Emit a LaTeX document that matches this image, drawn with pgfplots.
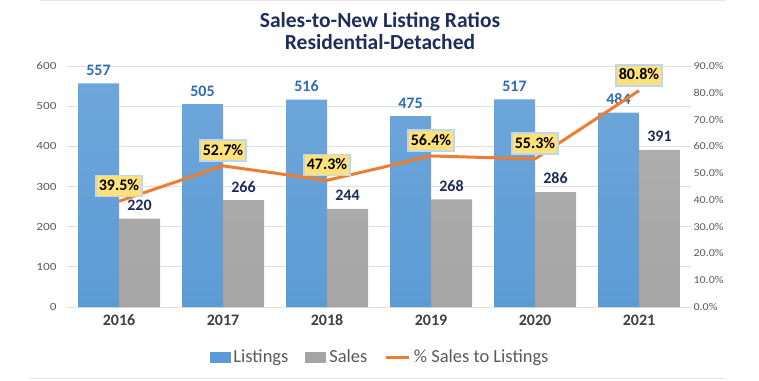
\documentclass[border=0pt]{standalone}
\usepackage{pgfplots}
\pgfplotsset{compat=1.18}
\usepackage{fontspec}
\setmainfont{Carlito}
\newfontfamily\leftticks[FakeStretch=1.2]{Carlito}
\newfontfamily\rightticks[FakeStretch=1.15]{Carlito}
\definecolor{listblue}{HTML}{5B9BD5}
\definecolor{listblueTop}{HTML}{6EA6DA}
\definecolor{salesgray}{HTML}{A5A5A5}
\definecolor{salesgrayTop}{HTML}{ADADAD}
\definecolor{lineorange}{HTML}{ED7D31}
\definecolor{titlenavy}{HTML}{1F2D5C}
\definecolor{lblblue}{HTML}{2E6DB4}
\definecolor{lblnavy}{HTML}{1F2A5C}
\definecolor{boxyellow}{HTML}{FFE17A}
\definecolor{boxedge}{HTML}{BDD7EE}
\definecolor{txtgray}{HTML}{595959}
\definecolor{yeargray}{HTML}{404040}
\begin{document}
\begin{tikzpicture}[x=1pt,y=1pt]
\begin{axis}[
  at={(0,0)}, anchor=south west,
  scale only axis, width=624pt, height=241pt,
  xmin=-0.5, xmax=5.5, ymin=0, ymax=600,
  ybar=0pt, bar width=41pt,
  xtick={0,1,2,3,4,5}, xticklabels={2016,2017,2018,2019,2020,2021},
  ytick={0,100,...,600},
  ymajorgrids, grid style={draw=gray!25, line width=0.8pt},
  axis line style={draw=none}, major tick length=0pt,
  /pgf/number format/assume math mode=true,
  xticklabel style={font=\bfseries\fontsize{16}{16}\selectfont, text=yeargray, yshift=-4pt},
  yticklabel style={font=\leftticks\fontsize{11}{11}\selectfont, text=txtgray, xshift=-7pt},
  nodes near coords,
  nodes near coords style={font=\bfseries\fontsize{16}{16}\selectfont, yshift=4.5pt},
  clip=false,
]
\addplot[draw=none, top color=listblueTop, bottom color=listblue,
  nodes near coords style={text=lblblue}]
  coordinates {(0,557) (1,505) (2,516) (3,475) (4,517) (5,484)};
\addplot[draw=none, top color=salesgrayTop, bottom color=salesgray,
  nodes near coords style={text=lblnavy}]
  coordinates {(0,220) (1,266) (2,244) (3,268) (4,286) (5,391)};
\end{axis}
\begin{axis}[
  at={(0,0)}, anchor=south west,
  scale only axis, width=624pt, height=241pt,
  xmin=-0.5, xmax=5.5, ymin=0, ymax=90,
  axis y line*=right, axis x line=none,
  axis line style={draw=none}, major tick length=0pt,
  ytick={0,10,...,90},
  /pgf/number format/assume math mode=true,
  yticklabel={\pgfmathprintnumber[fixed,fixed zerofill,precision=1]{\tick}\%},
  yticklabel style={font=\rightticks\fontsize{10.5}{10.5}\selectfont, text=txtgray, anchor=west, xshift=-1pt},
  legend columns=-1,
  legend style={draw=none, fill=none, at={(0.5016,-0.2075)}, anchor=center,
    font=\fontsize{18.5}{18.5}\selectfont, text=txtgray,
    cells={inner sep=0pt},
    /tikz/every odd column/.append style={column sep=1.5pt},
    /tikz/every even column/.append style={column sep=15pt}},
  clip=false,
]
\addlegendimage{legend image code/.code={\fill[listblue] (0pt,-5pt) rectangle (20pt,5pt);}}
\addlegendentry{Listings}
\addlegendimage{legend image code/.code={\fill[salesgray] (0pt,-5pt) rectangle (20pt,5pt);}}
\addlegendentry{Sales}
\addlegendimage{legend image code/.code={\draw[lineorange, line width=3pt] (0pt,0pt) -- (23pt,0pt);}}
\addlegendentry{\% Sales to Listings}
\addplot[forget plot, lineorange, line width=3pt, mark=none,
  nodes near coords={\pgfmathprintnumber[fixed,fixed zerofill,precision=1]{\pgfplotspointmeta}\%},
  nodes near coords style={font=\bfseries\fontsize{16}{16}\selectfont, text=black,
    fill=boxyellow, draw=boxedge, line width=1.5pt, inner xsep=3pt, inner ysep=4pt,
    text height=11pt, text depth=2pt, anchor=south, yshift=4pt}]
  coordinates {(0,39.5) (1,52.7) (2,47.3) (3,56.4) (4,55.3) (5,80.8)};
\end{axis}
\node[font=\bfseries\fontsize{21.5}{22}\selectfont, text=titlenavy, align=center] at (313pt,276pt) {Sales-to-New Listing Ratios\\Residential-Detached};
\draw[gray!20, line width=1pt] (-27pt,306pt) -- (658pt,306pt);
\draw[gray!20, line width=1pt] (-37pt,-71pt) -- (658pt,-71pt);
\pgfresetboundingbox
\useasboundingbox (-67pt,-73pt) rectangle (692pt,307pt);
\end{tikzpicture}
\end{document}
